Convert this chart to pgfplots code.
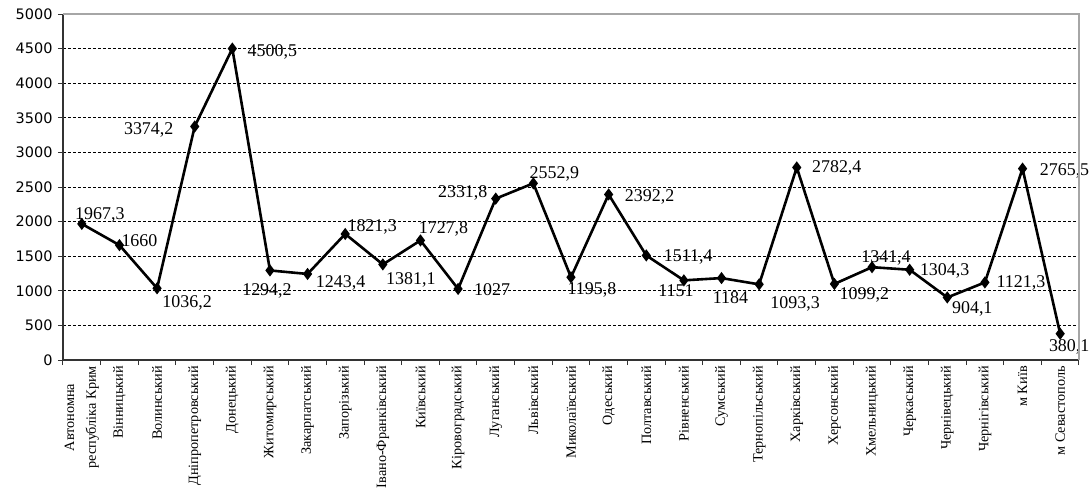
\documentclass[border=0pt]{standalone}
\usepackage{fontspec}
\setmainfont{Liberation Serif}
\newfontfamily\ysans{DejaVu Sans}
\usepackage{pgfplots}
\usepackage{pgfplotstable}
\pgfplotsset{compat=1.18}

% region, value, label offset (bp) from the marker
\pgfplotstableread{
x y dx dy
0 1967.3 18 9
1 1660 20 5
2 1036.2 30 -15
3 3374.2 -46 -3
4 4500.5 40 -3
5 1294.2 -3 -20
6 1243.4 33 -9
7 1821.3 27 7
8 1381.1 28 -15
9 1727.8 23 12
10 1027 34 -1
11 2331.8 -33 6
12 2552.9 21 9
13 1195.8 21 -13
14 2392.2 41 -2
15 1511.4 42 -2
16 1151 -8 -10
17 1184 9 -20
18 1093.3 36 -20
19 2782.4 40 0
20 1099.2 30 -11
21 1341.4 14 9
22 1304.3 35 -1
23 904.1 25 -11
24 1121.3 36 -1
25 2765.5 42 -2
26 380.1 9 -13
}\regions

\begin{document}
\begin{tikzpicture}
\begin{axis}[
  name=ax,
  scale only axis, width=1016bp, height=346bp,
  xmin=-0.5, xmax=26.5, ymin=0, ymax=5000,
  clip=false,
  axis lines=left,
  axis line style={-, draw=black!80, line width=1.3bp},
  tick align=outside,
  major tick length=5bp, minor tick length=5bp,
  xtick={0,...,26},
  major x tick style={draw=none},
  minor xtick={-0.5,0.5,...,26.5},
  minor x tick style={black!80, line width=1bp},
  ytick={0,500,...,5000},
  y tick style={black!80, line width=1bp},
  ymajorgrids,
  major grid style={black, line width=0.8bp, dash pattern=on 3bp off 2bp},
  /pgf/number format/.cd, use comma, 1000 sep={}, assume math mode=true,
  /pgfplots/.cd,
  yticklabel style={font=\ysans\fontsize{14.5}{15}\selectfont, xshift=-2bp},
  xticklabel style={rotate=90, anchor=east, align=center,
    font=\fontsize{14.3}{22}\selectfont, inner sep=1bp},
  xticklabels={{Автономна\\республіка Крим}, Вінницький, Волинський,
    Дніпропетровський, Донецький, Житомирський, Закарпатський, Запорізький,
    Івано-Франківський, Київський, Кіровоградський, Луганський, Львівський,
    Миколаївський, Одеський, Полтавський, Рівненський, Сумський,
    Тернопільський, Харківський, Херсонський, Хмельницький, Черкаський,
    Чернівецький, Чернігівський, м Київ, м Севастополь},
]
\addplot[black, line width=2.6bp, mark=diamond*, mark size=4bp,
  mark options={solid},
  point meta=\thisrow{y},
  visualization depends on={\thisrow{dx} \as \dx},
  visualization depends on={\thisrow{dy} \as \dy},
  nodes near coords={\pgfmathprintnumber{\pgfplotspointmeta}},
  every node near coord/.append style={anchor=center, xshift=\dx bp,
    yshift=\dy bp, inner sep=0pt, text=black,
    font=\fontsize{18}{18}\selectfont},
] table[x=x, y=y] {\regions};
\end{axis}
\draw[black!35, line width=1.5bp] (ax.north west) -- (ax.north east) -- (ax.south east);
\pgfresetboundingbox
\path (ax.south west) ++(-63bp,-130bp) rectangle ++(1091bp,490bp);
\end{tikzpicture}
\end{document}
